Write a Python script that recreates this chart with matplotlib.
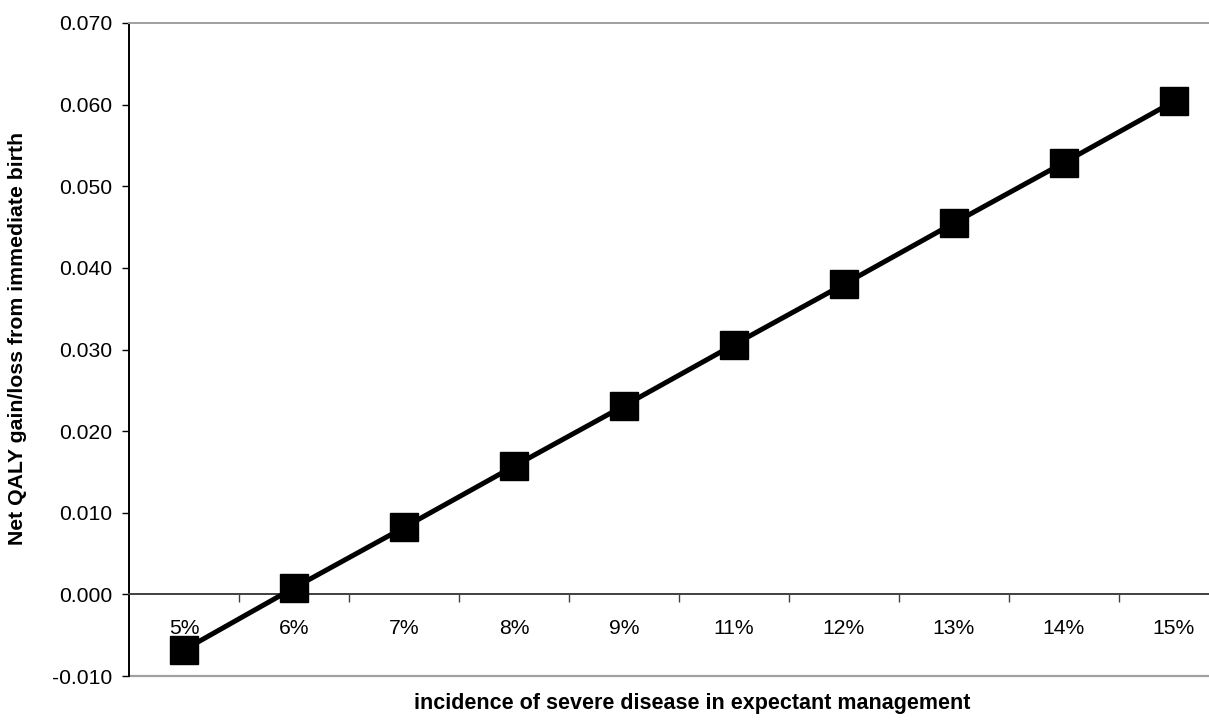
import numpy as np
import matplotlib.pyplot as plt

# data
categories = ['5%', '6%', '7%', '8%', '9%', '11%', '12%', '13%', '14%', '15%']
net_qaly = [-0.0068, 0.0008, 0.0082, 0.0157, 0.0231, 0.0306, 0.0380, 0.0455, 0.0529, 0.0604]
y_ticks = [-0.010, 0.000, 0.010, 0.020, 0.030, 0.040, 0.050, 0.060, 0.070]

plt.rcParams['font.family'] = ['Liberation Sans', 'DejaVu Sans']

fig = plt.figure(figsize=(12.09, 7.25), dpi=100)
ax = fig.add_axes([129 / 1209, 1 - 676 / 725, 1100 / 1209, 653 / 725])

x = np.arange(len(categories))
ax.plot(x, net_qaly, color='black', linewidth=3.6, marker='s', markersize=19.5,
        markerfacecolor='black', markeredgecolor='black', zorder=5, clip_on=False)

ax.set_xlim(-0.5, len(categories) - 0.5)
ax.set_ylim(-0.010, 0.070)

# y axis
ax.set_yticks(y_ticks)
ax.set_yticklabels(['%.3f' % v for v in y_ticks])
ax.tick_params(axis='y', direction='out', length=5, width=1, color='black',
               labelsize=15.2, pad=7)

# x axis sits at y = 0, tick marks between categories
ax.spines['bottom'].set_position(('data', 0))
ax.spines['bottom'].set_color('#404040')
ax.spines['bottom'].set_linewidth(1.4)
ax.set_xticks(x)
ax.set_xticklabels(categories)
ax.set_xticks(np.arange(len(categories) - 1) + 0.5, minor=True)
ax.tick_params(axis='x', which='major', length=0, labelsize=15.2, pad=18)
ax.tick_params(axis='x', which='minor', direction='out', length=6, width=1, color='#404040')

ax.spines['left'].set_color('black')
ax.spines['left'].set_linewidth(1.4)
ax.spines['top'].set_color('#a0a0a0')
ax.spines['top'].set_linewidth(1.4)
ax.spines['right'].set_visible(False)
ax.axhline(-0.010, color='#a0a0a0', linewidth=1.6, clip_on=False)

fig.text(18 / 1209, 1 - 338 / 725, 'Net QALY gain/loss from immediate birth',
         rotation=90, ha='center', va='center', fontsize=15.3, fontweight='bold')
fig.text(692 / 1209, 1 - 704 / 725, 'incidence of severe disease in expectant management',
         ha='center', va='center', fontsize=15.5, fontweight='bold')

fig.savefig('out.png', dpi=100)
